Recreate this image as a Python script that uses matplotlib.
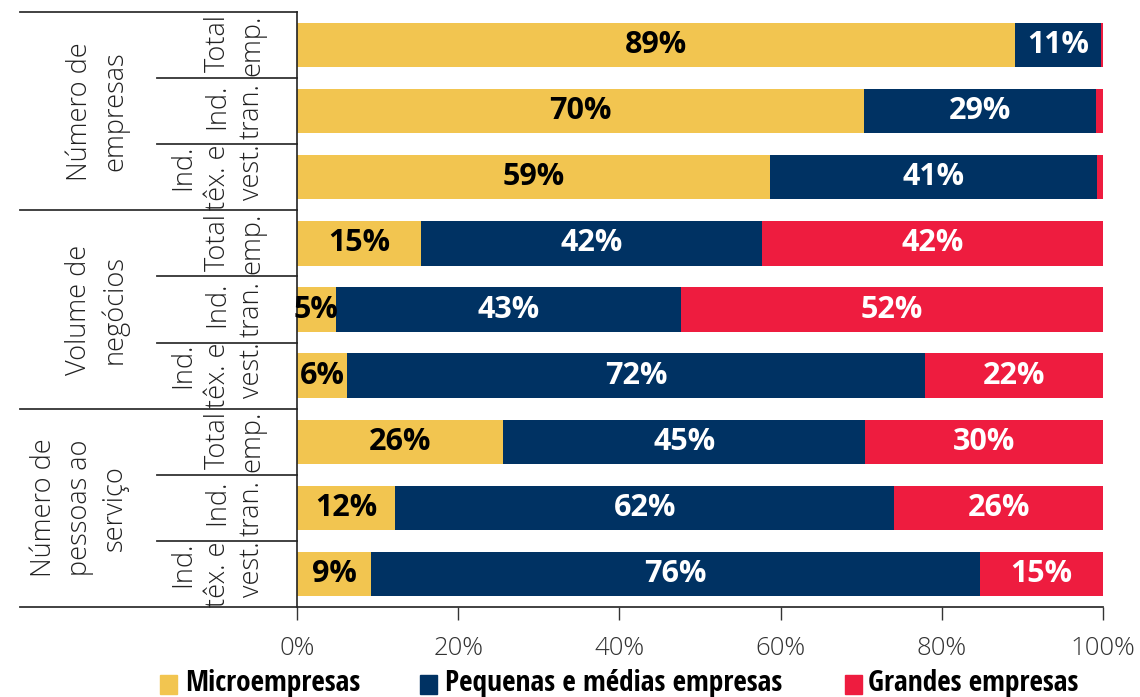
import matplotlib
matplotlib.use("Agg")
import matplotlib.pyplot as plt
from matplotlib.patches import Rectangle
from matplotlib import font_manager as fm
from matplotlib.ft2font import FT2Font
import numpy as np

groups = ["Número de\nempresas", "Volume de\nnegócios", "Número de\npessoas ao\nserviço"]
subcats = ["Total\nemp.", "Ind.\ntran.", "Ind.\ntêx. e\nvest."]
series_names = ["Microempresas", "Pequenas e médias empresas", "Grandes empresas"]
micro = [89.1, 70.3, 58.7, 15.4, 4.8, 6.2, 25.6, 12.2, 9.2]
pme = [10.65, 28.8, 40.6, 42.3, 42.8, 71.7, 44.9, 61.9, 75.5]
grandes = [0.25, 0.9, 0.7, 42.3, 52.4, 22.1, 29.5, 25.9, 15.3]
labels_micro = ["89%", "70%", "59%", "15%", "5%", "6%", "26%", "12%", "9%"]
labels_pme = ["11%", "29%", "41%", "42%", "43%", "72%", "45%", "62%", "76%"]
labels_grandes = ["", "", "", "42%", "52%", "22%", "30%", "26%", "15%"]
xticks = [0, 20, 40, 60, 80, 100]
xticklabels = ["0%", "20%", "40%", "60%", "80%", "100%"]

colors = ["#F2C550", "#003263", "#EE1C3F"]
txtcolors = ["black", "white", "white"]

W, H = 1140, 697
fig = plt.figure(figsize=(W / 100, H / 100), dpi=100)
renderer = fig.canvas.get_renderer()

# pick the narrowest bold latin font for the legend (reference uses a condensed bold face)
target_w = 175.0  # px width of "Microempresas" in the reference
known = ("DejaVu", "Liberation", "Noto Sans", "Roboto", "Open Sans", "Lato", "Inter")
cands = []
for f in fm.fontManager.ttflist:
    if not f.name.startswith(known) or "CJK" in f.name or "Mono" in f.name or "Serif" in f.name:
        continue
    if not (f.weight in ("bold", 700) or "Bold" in f.fname):
        continue
    try:
        ft = FT2Font(f.fname)
        if all(ft.get_char_index(ord(ch)) != 0 for ch in "MPGéçmpresa"):
            cands.append(f.fname)
    except Exception:
        pass
best = None
for fn in sorted(set(cands)):
    try:
        fp = fm.FontProperties(fname=fn, size=22)
        t = fig.text(0, 0, "Microempresas", fontproperties=fp)
        w = t.get_window_extent(renderer).width
        t.remove()
        if w <= 10:
            continue
        size = 22 * target_w / w
        if best is None or size > best[1]:
            best = (fn, size)
    except Exception:
        pass

ax = fig.add_axes([297 / W, 1 - 607 / H, (1103 - 297) / W, (607 - 12) / H])

n = len(micro)
y = np.arange(n)
vals = [np.array(micro), np.array(pme), np.array(grandes)]
labs = [labels_micro, labels_pme, labels_grandes]
left = np.zeros(n)
for v, c, tc, lb in zip(vals, colors, txtcolors, labs):
    ax.barh(y, v, left=left, height=0.67, color=c, edgecolor="none")
    for i in range(n):
        if lb[i]:
            ax.text(left[i] + v[i] / 2, y[i], lb[i], ha="center", va="center",
                    color=tc, fontsize=22, fontweight="bold", family="Open Sans")
    left = left + v

ax.set_xlim(0, 100)
ax.set_ylim(n - 0.5, -0.5)
ax.set_yticks([])
ax.set_xticks(xticks)
ax.set_xticklabels(xticklabels, family="Open Sans", fontweight="light", fontsize=18.5, color="#333333")
ax.tick_params(axis="x", direction="out", length=9, width=1.0, color="#333333", pad=12)
for s in ["top", "right"]:
    ax.spines[s].set_visible(False)
ax.spines["left"].set_color("#222222")
ax.spines["left"].set_linewidth(1.2)
ax.spines["bottom"].set_visible(False)

tr = ax.get_yaxis_transform()
x_far = (20 - 297) / (1103 - 297)
x_mid = (157 - 297) / (1103 - 297)
lc = "#333333"
for k in range(n + 1):
    yy = k - 0.5
    x0 = x_far if k % 3 == 0 else x_mid
    x1 = 1.0 if k == n else 0.0
    ax.plot([x0, x1], [yy, yy], color=lc, lw=1.3, transform=tr, clip_on=False)

x_sub = (266 - 297) / (1103 - 297)
for i in range(n):
    ax.text(x_sub, y[i], subcats[i % 3], rotation=90, ha="right", va="center",
            transform=tr, family="Open Sans", fontweight="light", fontsize=19.5,
            color="#222222", linespacing=1.3, clip_on=False)
x_grp = (129 - 297) / (1103 - 297)
for g in range(3):
    ax.text(x_grp, 3 * g + 1, groups[g], rotation=90, ha="right", va="center",
            transform=tr, family="Open Sans", fontweight="light", fontsize=19.5,
            color="#222222", linespacing=1.35, clip_on=False, multialignment="center")

leg_y = 1 - 684 / H
sq_w, sq_h = 17 / W, 19 / H
entries = [(160, 185), (420, 445), (845, 868)]
for (sx, tx), c, name in zip(entries, colors, series_names):
    fig.patches.append(Rectangle((sx / W, leg_y - sq_h / 2), sq_w, sq_h, color=c,
                                 transform=fig.transFigure))
    if best:
        fp = fm.FontProperties(fname=best[0], size=min(best[1], 24))
        fig.text(tx / W, leg_y, name, ha="left", va="center",
                 fontproperties=fp, color="black")
    else:
        fig.text(tx / W, leg_y, name, ha="left", va="center", fontsize=16.5,
                 fontweight="bold", family="Open Sans", color="black")

fig.savefig("out.png", dpi=100)
